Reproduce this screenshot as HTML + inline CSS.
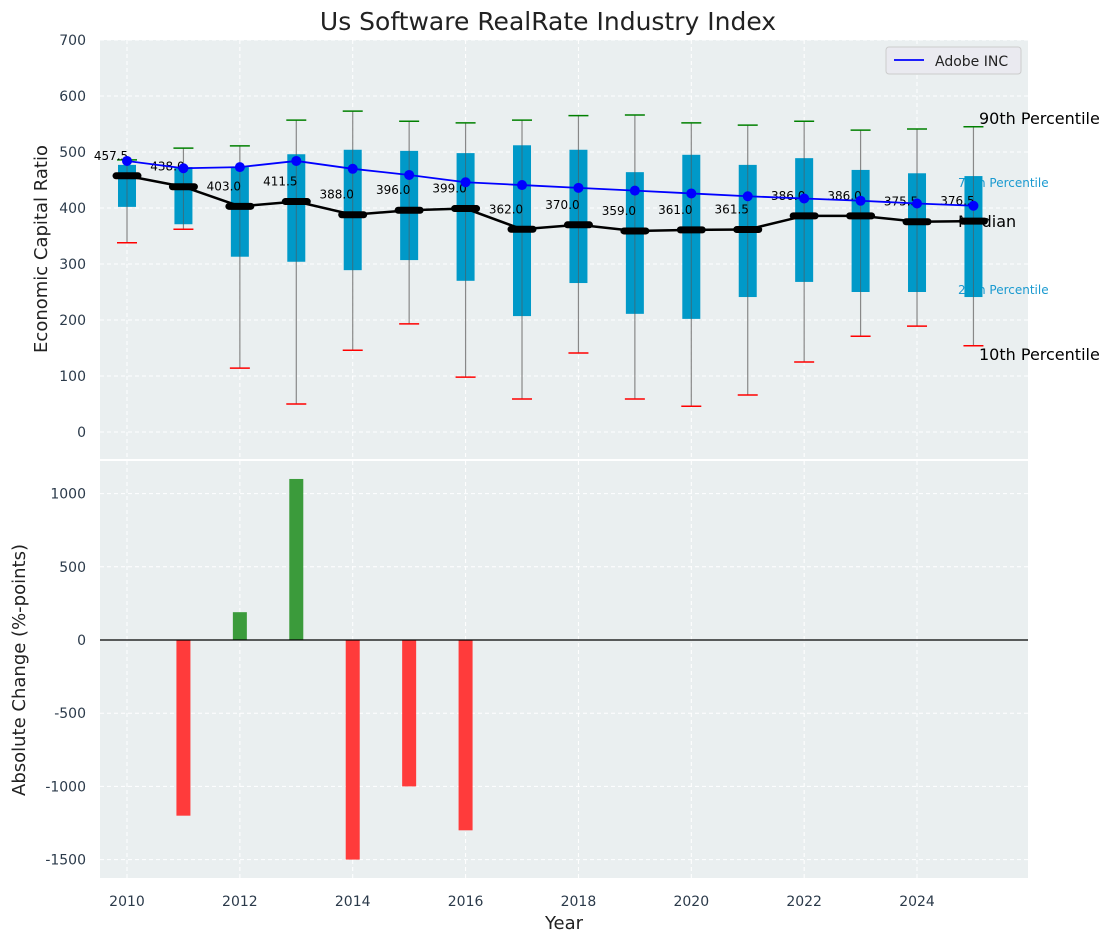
<!DOCTYPE html>
<html><head><meta charset="utf-8"><style>
body{margin:0;background:#fff;font-family:"Liberation Sans","DejaVu Sans",sans-serif}
</style></head><body>
<svg id="c" width="1114" height="942" xmlns="http://www.w3.org/2000/svg" font-family="DejaVu Sans, Liberation Sans, sans-serif"></svg>
<script>
const years=[2010,2011,2012,2013,2014,2015,2016,2017,2018,2019,2020,2021,2022,2023,2024,2025];
const p90=[486,507,511,557,573,555,552,557,565,566,552,548,555,539,541,545];
const p75=[477,473,473,496,504,502,498,512,504,464,495,477,489,468,462,457];
const median=[457.5,438,403,411.5,388,396,399,362,370,359,361,361.5,386,386,375.5,376.5];
const p25=[402,371,313,304,289,307,270,207,266,211,202,241,268,250,250,241];
const p10=[338,362,114,50,146,193,98,59,141,59,46,66,125,171,189,154];
const adobe=[484,471,473,484,470,459,446,441,436,431,426,421,417,413,408,404];
const changeYears=[2011,2012,2013,2014,2015,2016];
const changes=[-1200,190,1100,-1500,-1000,-1300];
const topTicks=[0,100,200,300,400,500,600,700];
const botTicks=[1000,500,0,-500,-1000,-1500];
const xTicks=[2010,2012,2014,2016,2018,2020,2022,2024];

const NS="http://www.w3.org/2000/svg",svg=document.getElementById('c');
function el(t,a,txt){const e=document.createElementNS(NS,t);for(const k in a)e.setAttribute(k,a[k]);if(txt!==undefined)e.textContent=txt;svg.appendChild(e);return e;}
const X=y=>127+(y-2010)*56.43;
const Y1=v=>432-v*0.56;
const Y2=v=>640-v*0.1464;
const L=100,R=1028;

let e;
e=el('rect',{x:L,y:40,width:R-L,height:419,fill:'#eaeff0'});

e=el('rect',{x:L,y:461,width:R-L,height:417,fill:'#eaeff0'});

xTicks.forEach(t=>{
 el('line',{x1:X(t),x2:X(t),y1:40,y2:459,stroke:'#fff','stroke-dasharray':'4,3','stroke-width':1});
 el('line',{x1:X(t),x2:X(t),y1:461,y2:878,stroke:'#fff','stroke-dasharray':'4,3','stroke-width':1});
 e=el('text',{x:X(t),y:906,'text-anchor':'middle','font-size':14,fill:'#2b3a4a'},t);
 
});
topTicks.forEach(t=>{
 el('line',{x1:L,x2:R,y1:Y1(t),y2:Y1(t),stroke:'#fff','stroke-dasharray':'4,3'});
 e=el('text',{x:86,y:Y1(t)+5,'text-anchor':'end','font-size':14,fill:'#2b3a4a'},t);
 
});
botTicks.forEach(t=>{
 el('line',{x1:L,x2:R,y1:Y2(t),y2:Y2(t),stroke:'#fff','stroke-dasharray':'4,3'});
 e=el('text',{x:86,y:Y2(t)+5,'text-anchor':'end','font-size':14,fill:'#2b3a4a'},t);
 
});
[['90th Percentile',124,16,'#000',979],['75th Percentile',187,12,'#1a9ad0',958],['Median',227,16,'#000',958],['25th Percentile',294,12,'#1a9ad0',958],['10th Percentile',360,16,'#000',979]].forEach(a=>{
 e=el('text',{x:a[4],y:a[1],'font-size':a[2],fill:a[3]},a[0]);
 
});
years.forEach((y,i)=>{
 const x=X(y);
 el('line',{x1:x,x2:x,y1:Y1(p90[i]),y2:Y1(p10[i]),stroke:'#888','stroke-width':1.2});
 e=el('rect',{x:x-9,y:Y1(p75[i]),width:18,height:Y1(p25[i])-Y1(p75[i]),fill:'#0099c8'});
 
 el('line',{x1:x,x2:x,y1:Y1(p75[i]),y2:Y1(p25[i]),stroke:'#555','stroke-width':1,opacity:.6});
 e=el('line',{x1:x-10,x2:x+10,y1:Y1(p90[i]),y2:Y1(p90[i]),stroke:'green','stroke-width':1.5});
 
 e=el('line',{x1:x-10,x2:x+10,y1:Y1(p10[i]),y2:Y1(p10[i]),stroke:'red','stroke-width':1.5});
 
});
e=el('polyline',{points:years.map((y,i)=>X(y)+','+Y1(median[i])).join(' '),fill:'none',stroke:'#000','stroke-width':2.5});

years.forEach((y,i)=>{
 e=el('line',{x1:X(y)-11,x2:X(y)+11,y1:Y1(median[i]),y2:Y1(median[i]),stroke:'#000','stroke-width':7,'stroke-linecap':'round'});
 
 e=el('text',{x:X(y)-16,y:Y1(median[i])-16,'text-anchor':'middle','font-size':12,fill:'#000'},median[i].toFixed(1));
 
});
e=el('polyline',{points:years.map((y,i)=>X(y)+','+Y1(adobe[i])).join(' '),fill:'none',stroke:'#0000ff','stroke-width':1.8});

years.forEach((y,i)=>{
 e=el('circle',{cx:X(y),cy:Y1(adobe[i]),r:5,fill:'#0000ff'});
 
});
e=el('rect',{x:886,y:47,width:135,height:27,rx:3,fill:'#eaeaf0',stroke:'#ccc'});

el('line',{x1:894,x2:924,y1:60,y2:60,stroke:'#0000ff','stroke-width':1.8});
e=el('text',{x:935,y:66,'font-size':14,fill:'#222'},'Adobe INC');

changeYears.forEach((y,i)=>{
 const v=changes[i];
 e=el('rect',{x:X(y)-7,y:Math.min(Y2(v),Y2(0)),width:14,height:Math.abs(Y2(v)-Y2(0)),fill:v>=0?'#3b9b3b':'#ff3b3b'});
 
});
el('line',{x1:L,x2:R,y1:Y2(0),y2:Y2(0),stroke:'#000','stroke-width':1.2});
e=el('text',{x:548,y:30,'text-anchor':'middle','font-size':25,fill:'#222'},'Us Software RealRate Industry Index');

e=el('text',{x:564,y:929,'text-anchor':'middle','font-size':18,fill:'#222'},'Year');

e=el('text',{x:0,y:0,'text-anchor':'middle','font-size':18,fill:'#222',transform:'translate(47,249) rotate(-90)'},'Economic Capital Ratio');

e=el('text',{x:0,y:0,'text-anchor':'middle','font-size':18,fill:'#222',transform:'translate(25,670) rotate(-90)'},'Absolute Change (%-points)');

</script>
</body></html>
